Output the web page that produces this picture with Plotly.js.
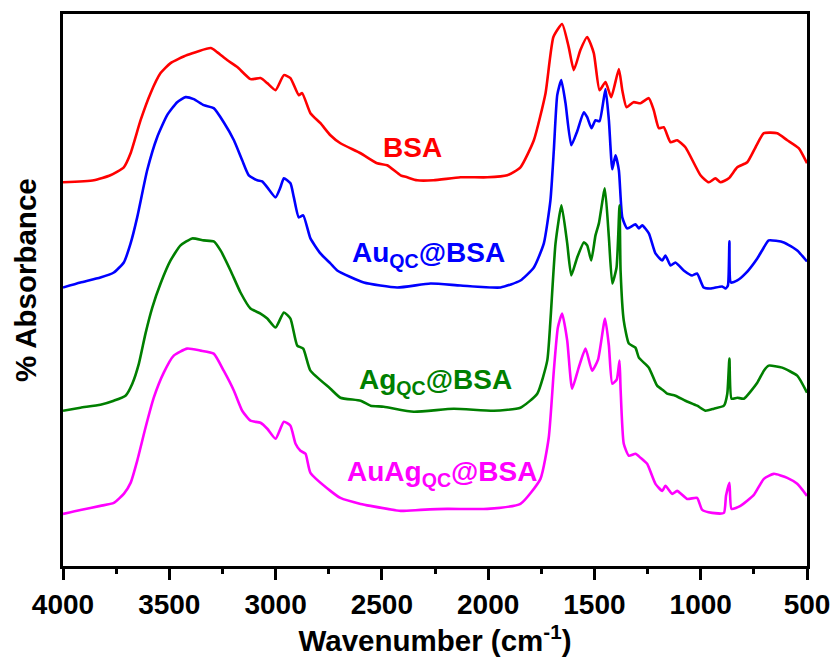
<!DOCTYPE html>
<html>
<head>
<meta charset="utf-8">
<script src="https://cdn.plot.ly/plotly-3.0.1.min.js"></script>
<style>html,body{margin:0;padding:0;background:#fff;}#chart{width:837px;height:662px;}</style>
</head>
<body>
<div id="chart"></div>
<script>
// Wavenumber (cm-1) and relative absorbance (arbitrary, offset units)
const bsaWn = [4000,3855,3777,3714,3682,3635,3588,3541,3494,3416,3305,3275,3228,3180,3118,3071,3039,3000,2961,2930,2891,2875,2836,2789,2742,2695,2600,2522,2475,2412,2381,2334,2257,2130,2004,1910,1848,1785,1730,1693,1652,1621,1597,1566,1534,1503,1476,1448,1421,1385,1369,1349,1316,1283,1244,1221,1197,1174,1142,1111,1072,1001,962,931,907,868,828,781,742,703,640,593,539,500];
const bsaAbs = [383,385,390,398,412,445,472,492,502,510,517,513,505,498,486,487,482,475,490,487,470,472,452,442,430,422,412,402,400,390,388,385,385,388,388,390,398,425,472,528,541,518,495,515,528,512,475,483,468,496,475,458,463,462,467,455,437,438,423,425,418,390,383,387,383,387,398,403,418,432,432,425,417,402];

const auWn = [4000,3918,3824,3761,3714,3682,3651,3604,3557,3510,3463,3424,3385,3338,3291,3244,3196,3157,3126,3086,3063,3039,3000,2977,2961,2930,2914,2891,2870,2836,2789,2742,2710,2585,2428,2271,2130,1942,1848,1785,1738,1707,1691,1675,1656,1636,1609,1581,1550,1534,1514,1495,1476,1448,1432,1416,1401,1385,1369,1346,1307,1291,1275,1244,1213,1181,1166,1142,1119,1080,1040,1017,986,954,899,883,872,865,858,828,789,734,703,680,609,546,500];
const auAbs = [278,283,288,293,303,322,348,395,428,450,463,468,466,460,457,443,425,405,390,385,384,378,368,378,387,382,368,348,350,327,312,302,295,283,278,282,280,278,285,298,322,365,415,470,485,462,420,434,453,448,437,445,444,476,445,396,410,395,348,337,341,337,340,332,312,305,310,300,303,295,290,292,278,277,279,277,280,324,283,285,292,307,318,325,323,315,304];

const agWn = [4000,3918,3824,3761,3706,3674,3643,3612,3580,3541,3494,3447,3392,3338,3291,3259,3212,3165,3118,3071,3039,3000,2961,2930,2898,2870,2836,2742,2695,2600,2553,2491,2350,2162,1973,1848,1769,1722,1707,1683,1655,1628,1609,1581,1550,1534,1515,1495,1479,1451,1432,1416,1396,1382,1377,1362,1338,1307,1291,1244,1205,1174,1158,1119,1072,1017,977,938,891,875,865,855,828,797,734,703,680,617,546,500];
const agAbs = [155,158,161,165,170,182,202,232,258,282,305,320,327,325,324,315,295,273,257,252,247,238,253,247,220,217,195,177,168,165,160,159,154,157,155,158,172,205,245,322,360,322,290,308,323,320,305,330,342,377,328,282,298,360,295,245,222,218,208,198,180,175,172,170,165,160,155,157,160,172,207,167,168,167,183,195,200,198,190,173];

const auagWn = [4000,3918,3824,3761,3714,3682,3651,3612,3573,3526,3479,3416,3353,3291,3244,3196,3157,3118,3071,3039,3000,2961,2930,2906,2883,2859,2836,2742,2695,2600,2553,2412,2318,2193,2004,1848,1754,1715,1691,1672,1652,1628,1605,1574,1542,1511,1483,1450,1432,1416,1395,1382,1377,1362,1338,1307,1283,1252,1213,1181,1166,1134,1111,1064,1017,993,946,891,881,865,855,813,750,703,656,593,546,500];
const auagAbs = [52,56,60,63,72,83,105,138,168,193,210,217,215,212,195,175,155,145,143,137,127,144,140,122,115,112,93,75,68,62,60,55,56,57,57,62,87,128,195,238,252,225,177,198,217,195,206,247,220,182,186,205,177,122,110,112,108,102,82,75,80,72,75,67,68,56,53,53,70,83,57,60,71,87,92,88,82,70];

const seriesNames = ['BSA', 'Au<sub>QC</sub>@BSA', 'Ag<sub>QC</sub>@BSA', 'AuAg<sub>QC</sub>@BSA'];
const seriesColors = ['#ff0000', '#0000ff', '#007f00', '#ff00ff'];
// label anchor points (wavenumber, absorbance)
const labelWn = [2356, 2281, 2248, 2215];
const labelAbs = [418, 311, 184, 92];

const xTickVals = [4000, 3500, 3000, 2500, 2000, 1500, 1000, 500];
const xTickText = ['4000', '3500', '3000', '2500', '2000', '1500', '1000', '500'];
const xMinorVals = [3750, 3250, 2750, 2250, 1750, 1250, 750];
const xTitle = 'Wavenumber (cm<sup>-1</sup>)';
const yTitle = '% Absorbance';

const xs = [bsaWn, auWn, agWn, auagWn];
const ys = [bsaAbs, auAbs, agAbs, auagAbs];

const traces = xs.map((x, i) => ({
  x: x, y: ys[i], type: 'scatter', mode: 'lines', name: seriesNames[i],
  line: {color: seriesColors[i], width: 2.6, shape: 'spline', smoothing: 0.5},
  hoverinfo: 'skip'
}));

const FONT = 'Liberation Sans, Arial, Helvetica, sans-serif';

const annotations = seriesNames.map((t, i) => ({
  x: labelWn[i], y: labelAbs[i], xref: 'x', yref: 'y', text: t, showarrow: false,
  xanchor: 'center', yanchor: 'middle',
  font: {size: 28, family: FONT, weight: 'bold', color: seriesColors[i]}
}));
annotations.push({
  xref: 'paper', yref: 'paper', x: -0.051, y: 0.518, text: yTitle, textangle: -90,
  showarrow: false, xanchor: 'center', yanchor: 'middle',
  font: {size: 29.5, family: FONT, weight: 'bold', color: '#000'}
});

const layout = {
  width: 837, height: 662,
  margin: {l: 63, r: 30, t: 14, b: 96, pad: 0},
  paper_bgcolor: '#ffffff', plot_bgcolor: '#ffffff',
  showlegend: false,
  font: {family: FONT, color: '#000000'},
  xaxis: {
    range: [4000, 500], tickmode: 'array', tickvals: xTickVals, ticktext: xTickText,
    ticks: 'outside', ticklen: 11, tickwidth: 3, tickcolor: '#000',
    showline: true, linewidth: 3, linecolor: '#000', mirror: true,
    showgrid: false, zeroline: false,
    tickfont: {size: 28, family: FONT, weight: 'bold', color: '#000'},
    minor: {tickmode: 'array', tickvals: xMinorVals, ticks: 'outside', ticklen: 5, tickwidth: 3, tickcolor: '#000', showgrid: false},
    title: {text: xTitle, font: {size: 29.5, family: FONT, weight: 'bold', color: '#000'}, standoff: 12},
    automargin: false
  },
  yaxis: {
    range: [0, 551], showticklabels: false, ticks: '',
    showline: true, linewidth: 3, linecolor: '#000', mirror: true,
    showgrid: false, zeroline: false,
    automargin: false
  },
  annotations: annotations
};

Plotly.newPlot('chart', traces, layout, {displayModeBar: false, staticPlot: true});
</script>
</body>
</html>
